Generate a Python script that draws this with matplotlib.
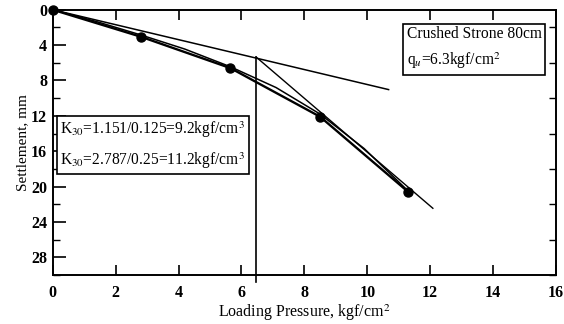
import matplotlib
matplotlib.use("Agg")
import matplotlib.pyplot as plt
from matplotlib.ticker import MultipleLocator

plt.rcParams['font.family'] = ['Liberation Serif', 'DejaVu Serif']
plt.rcParams['mathtext.fontset'] = 'stix'

# measured load-settlement points
pressure = [0.0, 2.8, 5.65, 8.5, 11.3]
settlement = [0.0, 3.05, 6.6, 12.1, 20.6]

# smooth curve drawn through the points
curve_x = [0.0, 1.4, 2.8, 4.2, 5.65, 7.1, 8.5, 9.9, 11.3]
curve_y = [0.0, 1.35, 2.85, 4.45, 6.45, 8.8, 11.8, 15.7, 20.5]

# first tangent line
tan1_x = [0.0, 10.7]
tan1_y = [0.0, 9.05]

# second tangent line
tan2_x = [6.45, 12.1]
tan2_y = [5.3, 22.5]

# yield point vertical
yield_x = 6.45
yield_y = [5.3, 30.8]

xticks = [0, 2, 4, 6, 8, 10, 12, 14, 16]
yticks = [0, 4, 8, 12, 16, 20, 24, 28]

fig = plt.figure(figsize=(5.64, 3.24), dpi=100)
ax = fig.add_axes([0.0934, 0.151, 0.8926, 0.819])

ax.plot(tan1_x, tan1_y, color='black', lw=1.1, solid_capstyle='butt')
ax.plot(tan2_x, tan2_y, color='black', lw=1.0, solid_capstyle='butt')
ax.plot(curve_x, curve_y, color='black', lw=1.1)
ax.plot(pressure, settlement, color='black', lw=1.7, marker='o', ms=6.5,
        clip_on=False, zorder=5)
ax.plot([yield_x, yield_x], yield_y, color='black', lw=1.2, clip_on=False)

ax.set_xlim(0, 16)
ax.set_ylim(30, 0)
ax.set_xticks(xticks)
ax.set_yticks(yticks)
ax.xaxis.set_minor_locator(MultipleLocator(2))
ax.yaxis.set_minor_locator(MultipleLocator(2))

ax.tick_params(axis='both', which='major', direction='in', length=7, width=1.2,
               top=True, right=False, labelsize=11.5, pad=7)
ax.tick_params(axis='y', which='major', length=9, pad=4)
ax.tick_params(axis='both', which='minor', direction='in', length=4, width=1.0,
               top=False, right=True)
ax.tick_params(axis='y', which='minor', left=True, length=5)
for lbl in ax.get_xticklabels() + ax.get_yticklabels():
    lbl.set_fontweight('bold')

for s in ax.spines.values():
    s.set_linewidth(1.4)

ax.set_xlabel('Loading Pressure, kgf/cm$^2$', fontsize=11.5, labelpad=1)
ax.set_ylabel('Settlement, mm', fontsize=11, labelpad=1)

ax.text(0.703, 0.94, 'Crushed Strone 80cm\nq$_u$=6.3kgf/cm$^2$',
        transform=ax.transAxes, fontsize=11.2, va='top', ha='left',
        linespacing=1.6,
        bbox=dict(boxstyle='square,pad=0.25', fc='white', ec='black', lw=1.2))
ax.text(0.0155, 0.585,
        'K$_{30}$=1.151/0.125=9.2kgf/cm$^3$\nK$_{30}$=2.787/0.25=11.2kgf/cm$^3$',
        transform=ax.transAxes, fontsize=11.2, va='top', ha='left',
        linespacing=1.65,
        bbox=dict(boxstyle='square,pad=0.25', fc='white', ec='black', lw=1.2))

fig.savefig('out.png', dpi=100)
